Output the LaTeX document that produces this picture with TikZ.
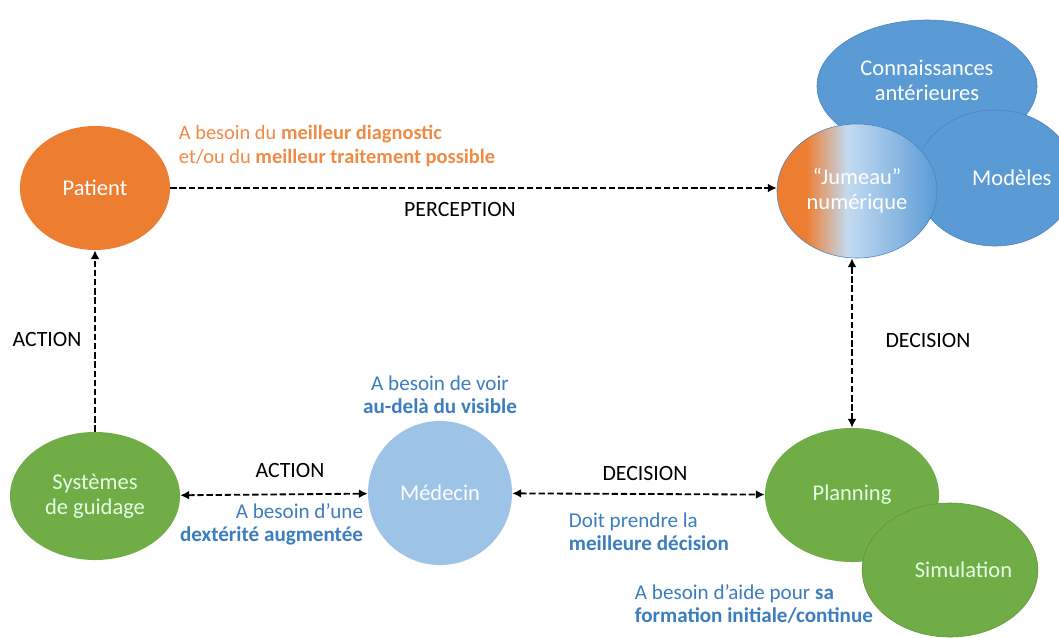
\documentclass[tikz,border=0pt]{standalone}
\usepackage{fontspec}
\setmainfont{Carlito}
\usepackage{xcolor}
\usetikzlibrary{arrows.meta,shapes.geometric}

\definecolor{orng}{HTML}{ED7D31}
\definecolor{orngtxt}{HTML}{F08A45}
\definecolor{grn}{HTML}{70AD47}
\definecolor{blu}{HTML}{5B9BD5}
\definecolor{bluedge}{HTML}{4A82BC}
\definecolor{lblu}{HTML}{9DC3E6}
\definecolor{jlight}{HTML}{C3DBF1}
\definecolor{bluetxt}{HTML}{3C7DBE}
\pgfdeclarehorizontalshading{jumeau}{100bp}{color(0bp)=(orng); color(34bp)=(orng); color(47bp)=(jlight); color(75bp)=(blu); color(100bp)=(blu)}

\begin{document}
\begin{tikzpicture}[x=0.025cm, y=-0.025cm, font=\fontsize{15}{16.5}\selectfont,
    bubble/.style={ellipse, inner sep=0pt, align=center, font=\fontsize{16}{17.5}\selectfont},
    caps/.style={font=\fontsize{15.5}{17}\selectfont},
    link/.style={line width=1.3pt, dash pattern=on 4.5pt off 2pt, -{Latex[width=2.2mm,length=2.2mm]}},
    both/.style={link, {Latex[width=2.2mm,length=2.2mm]}-{Latex[width=2.2mm,length=2.2mm]}}]
    \useasboundingbox (0,0) rectangle (1059,638);

    % bulles
    \node[bubble, fill=blu, draw=bluedge, minimum width=5.5cm, minimum height=3.3cm, text=white] (conn) at (927,86) {\raisebox{1.1em}{\begin{tabular}{c}Connaissances\\antérieures\end{tabular}}};
    \node[bubble, fill=blu, draw=bluedge, minimum width=3.25cm, minimum height=3.4cm, text=white] (mod) at (995,178) {\hspace{1.5em}Modèles};
    \node[bubble, shading=jumeau, draw=bluedge, minimum width=4cm, minimum height=3.35cm, text=white] (jum) at (857,191) {“Jumeau”\\numérique};
    \node[bubble, fill=orng, minimum width=3.75cm, minimum height=3.1cm, text=white] (patient) at (95,188) {Patient};
    \node[bubble, fill=grn, minimum width=4.25cm, minimum height=3.2cm, text=green!10] (sys) at (95,496) {Systèmes\\de guidage};
    \node[bubble, fill=lblu, minimum width=3.6cm, minimum height=3.6cm, text=white] (med) at (440,493) {Médecin};
    \node[bubble, fill=grn, minimum width=4.35cm, minimum height=3.35cm, text=green!10] (plan) at (852,495) {Planning};
    \node[bubble, fill=grn, draw=grn!85!black, minimum width=4.15cm, minimum height=3.35cm, text=green!10] (simu) at (950,570) {\hspace{1.2em}Simulation};

    % fleches
    \draw[link] (patient) -- (patient -| jum.west);
    \draw[link] (sys) -- (patient);
    \draw[both] (sys) -- (med);
    \draw[both] (med) -- (plan);
    \draw[both] (plan) -- (plan |- jum.south);

    % textes
    \node[caps] (perc) at (460,210) {PERCEPTION};
    \node[caps] (act1) at (47,339) {ACTION};
    \node[caps] (act2) at (290,470) {ACTION};
    \node[caps] (dec1) at (645,473) {DECISION};
    \node[caps] (dec2) at (928,340) {DECISION};
    \node[anchor=west, align=left, text=orngtxt, font=\fontsize{14.5}{16.5}\selectfont] (besoinpat) at (174,146) {A besoin du \textbf{meilleur diagnostic}\\et/ou du \textbf{meilleur traitement possible}};
    \node[align=center, text=bluetxt] (besoinvoir) at (440,395) {A besoin de voir\\\textbf{au-delà du visible}};
    \node[anchor=east, align=right, text=bluetxt] (besoindext) at (368,524) {A besoin d’une\\\textbf{dextérité augmentée}};
    \node[anchor=west, align=left, text=bluetxt] (doit) at (564,532) {Doit prendre la\\\textbf{meilleure décision}};
    \node[anchor=west, align=left, text=bluetxt] (besoinaide) at (630,604) {A besoin d’aide pour \textbf{sa}\\\textbf{formation initiale/continue}};
\end{tikzpicture}
\end{document}
